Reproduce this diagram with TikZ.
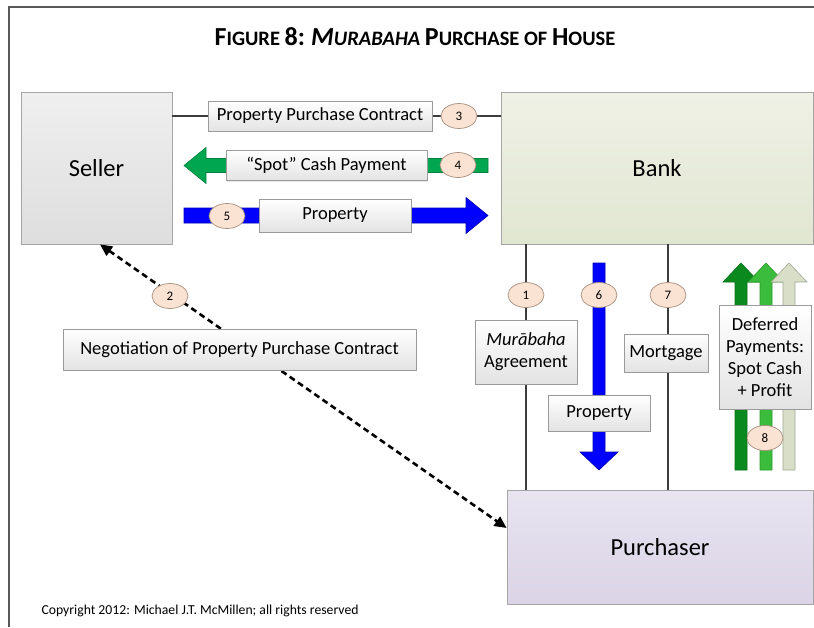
\documentclass[tikz,border=0pt]{standalone}
\usepackage{fontspec}
\setmainfont{Carlito}
\usetikzlibrary{arrows.meta,shadows,shapes.geometric}

\definecolor{framegray}{HTML}{585858}
\definecolor{linegray}{HTML}{3C3C3C}
\definecolor{boxborder}{HTML}{A5A5A5}
\definecolor{sellertop}{HTML}{EFEFEF}
\definecolor{sellerbot}{HTML}{DEDEDE}
\definecolor{banktop}{HTML}{EFF1E6}
\definecolor{bankbot}{HTML}{E1E6D1}
\definecolor{purchtop}{HTML}{E8E4F0}
\definecolor{purchbot}{HTML}{DAD4E6}
\definecolor{lblbot}{HTML}{E3E3E3}
\definecolor{lblborder}{HTML}{9B9B9B}
\definecolor{ovalfill}{HTML}{FBE3D3}
\definecolor{ovalborder}{HTML}{A89080}
\definecolor{cashgreen}{HTML}{00A650}
\definecolor{cashgreenb}{HTML}{00803C}
\definecolor{propblue}{HTML}{0000FF}
\definecolor{propblueb}{HTML}{0000B0}
\definecolor{dkgreen}{HTML}{0A8A1E}
\definecolor{dkgreenb}{HTML}{06701A}
\definecolor{mdgreen}{HTML}{3CBC3C}
\definecolor{mdgreenb}{HTML}{2A9A2A}
\definecolor{palegreen}{HTML}{D8DEC8}
\definecolor{palegreenb}{HTML}{A0A890}

% large initials inside the small-caps title
\newcommand{\bigc}[1]{{\fontsize{26}{30}\selectfont #1}}

\begin{document}
\begin{tikzpicture}[x=1pt,y=-1pt,
  party/.style={draw=boxborder, line width=0.8pt, inner sep=0pt,
    font=\fontsize{24.5}{28}\selectfont},
  lbl/.style={draw=lblborder, line width=0.7pt, top color=white, bottom color=lblbot,
    inner sep=0pt, align=center, font=\fontsize{18.5}{22}\selectfont,
    drop shadow={opacity=0.18, shadow xshift=1.2pt, shadow yshift=-1.2pt}},
  num/.style={ellipse, draw=ovalborder, line width=0.7pt, fill=ovalfill,
    minimum width=36pt, minimum height=25pt, inner sep=0pt,
    font=\fontsize{13}{15}\selectfont},
  conn/.style={draw=linegray, line width=2.8pt},
  negline/.style={draw=black, line width=2.6pt, dash pattern=on 6pt off 4pt,
    {Triangle[length=12pt,width=11pt]}-{Triangle[length=12pt,width=11pt]}},
]
\useasboundingbox (0,0) rectangle (814,627);

% outer frame (open on the right and bottom)
\draw[framegray, line width=2.2pt] (9,627) -- (9,7) -- (814,7);

% title and copyright
\node[font=\fontsize{20.5}{30}\selectfont\bfseries] (title) at (415,37)
  {\bigc{F}IGURE \bigc{8:} \textit{\bigc{M}URABAHA} \bigc{P}URCHASE OF \bigc{H}OUSE};
\node[anchor=west, font=\fontsize{13.7}{16}\selectfont] (copy) at (38,611)
  {Copyright 2012: Michael J.T. McMillen; all rights reserved};

% the three parties
\node[party, top color=sellertop, bottom color=sellerbot,
  minimum width=151pt, minimum height=152pt] (seller) at (96.5,168) {Seller};
\node[party, top color=banktop, bottom color=bankbot,
  minimum width=312pt, minimum height=152pt] (bank) at (657,168) {Bank};
\node[party, top color=purchtop, bottom color=purchbot,
  minimum width=306pt, minimum height=114pt] (purch) at (660,547) {Purchaser};

% rows and columns used by the links
\coordinate (row3) at (0,116);
\coordinate (col1) at (526,0);
\coordinate (col7) at (668,0);

% contract line between seller and bank
\draw[conn] (seller.east |- row3) -- (bank.west |- row3);
% agreement and mortgage lines between bank and purchaser
\draw[conn] (bank.south -| col1) -- (purch.north -| col1);
\draw[conn] (bank.south -| col7) -- (purch.north -| col7);

% negotiation between purchaser and seller
\draw[negline] ([xshift=3.5pt]seller.south) -- ([yshift=19pt]purch.west);

% spot cash payment: bank to seller
\filldraw[fill=cashgreen, draw=cashgreenb, line width=0.6pt]
  (488,158.5) -- (206,158.5) -- (206,147.5) -- (184,165.5) -- (206,183.5)
  -- (206,172.5) -- (488,172.5) -- cycle;
% property: seller to bank
\filldraw[fill=propblue, draw=propblueb, line width=0.6pt]
  (184,208) -- (466,208) -- (466,197.5) -- (488,215.5) -- (466,233.5)
  -- (466,223) -- (184,223) -- cycle;
% property: bank to purchaser
\filldraw[fill=propblue, draw=propblueb, line width=0.6pt]
  (593,263) -- (605,263) -- (605,452) -- (618,452) -- (599,470) -- (580,452)
  -- (593,452) -- cycle;
% deferred payments: purchaser to bank
\foreach \cx/\fc/\bc in {741/dkgreen/dkgreenb, 766/mdgreen/mdgreenb, 789/palegreen/palegreenb}{
  \filldraw[fill=\fc, draw=\bc, line width=0.6pt]
    (\cx-6,470) -- (\cx+6,470) -- (\cx+6,282) -- (\cx+18,282) -- (\cx,263)
    -- (\cx-18,282) -- (\cx-6,282) -- cycle;
}

% labels
\node[lbl, minimum width=224pt, minimum height=30pt] (ppc) at (320,116)
  {Property Purchase Contract};
\node[lbl, minimum width=201pt, minimum height=30pt] (spot) at (326.5,165.5)
  {“Spot” Cash Payment};
\node[lbl, minimum width=152pt, minimum height=33pt] (propA) at (335,215.5)
  {Property};
\node[lbl, minimum width=353pt, minimum height=41pt] (nego) at (239.5,349.5)
  {Negotiation of Property Purchase Contract};
\node[lbl, minimum width=102pt, minimum height=64pt] (mur) at (526,352)
  {\textit{Murābaha}\\Agreement};
\node[lbl, minimum width=102pt, minimum height=36pt] (propB) at (599,413)
  {Property};
\node[lbl, minimum width=84pt, minimum height=38pt] (mort) at (666,353)
  {Mortgage};
\node[lbl, minimum width=92pt, minimum height=104pt] (defer) at (765,357)
  {Deferred\\Payments:\\Spot Cash\\+ Profit};

% step numbers
\node[num] (n1) at (526,295) {1};
\node[num] (n2) at (170,296) {2};
\node[num] (n3) at (459,116) {3};
\node[num] (n4) at (458,165) {4};
\node[num] (n5) at (227,216) {5};
\node[num] (n6) at (599,295) {6};
\node[num] (n7) at (668,295) {7};
\node[num] (n8) at (765,438) {8};
\end{tikzpicture}
\end{document}
